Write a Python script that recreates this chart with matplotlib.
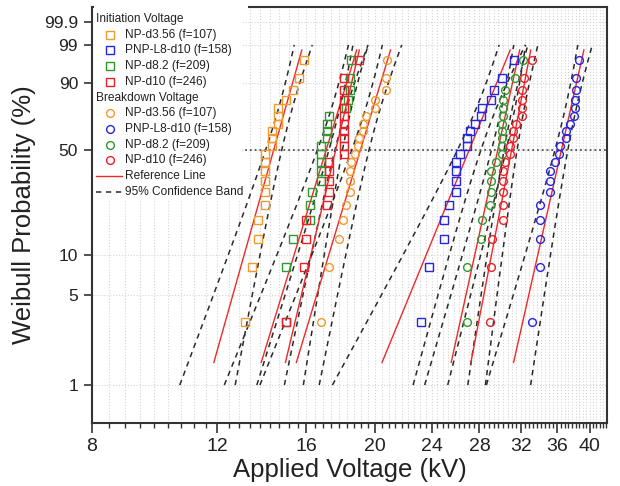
import numpy as np
import matplotlib
matplotlib.use("Agg")
import matplotlib.pyplot as plt
from matplotlib.ticker import FixedLocator, NullFormatter, FixedFormatter
from matplotlib.patches import Rectangle

plt.rcParams['font.family'] = ['Liberation Sans', 'DejaVu Sans']

labels = ["NP-d3.56 (f=107)", "PNP-L8-d10 (f=158)", "NP-d8.2 (f=209)", "NP-d10 (f=246)"]
colors = ["#f39a2e", "#2626e0", "#2e9a2e", "#e8202a"]

# initiation voltage (kV), squares
init_np356 = [13.1, 13.4, 13.7, 13.7, 14.0, 14.0, 14.0, 14.0, 14.0, 14.0,
              14.3, 14.3, 14.3, 14.6, 14.6, 14.6, 15.0, 15.3, 15.6, 15.9]
init_pnp = [23.2, 23.8, 25.0, 25.0, 25.4, 26.0, 26.0, 26.0, 26.0, 26.3,
            26.9, 26.9, 27.2, 27.6, 28.1, 28.2, 29.1, 29.4, 30.1, 31.3]
init_np82 = [15.0, 15.0, 15.3, 16.2, 16.2, 16.3, 16.8, 16.8, 16.8, 16.8,
             16.8, 17.1, 17.1, 17.1, 17.2, 18.2, 18.3, 18.4, 18.4, 18.5]
init_np10 = [15.0, 15.9, 16.0, 16.0, 17.1, 17.2, 17.2, 17.2, 17.2, 18.1,
             18.1, 18.1, 18.1, 18.1, 18.1, 18.1, 18.1, 18.1, 18.1, 19.0]

# breakdown voltage (kV), circles
bd_np356 = [16.8, 17.2, 17.8, 18.0, 18.2, 18.4, 18.4, 18.45, 18.5, 18.7,
            18.9, 19.0, 19.2, 19.2, 19.4, 20.0, 20.0, 20.7, 20.7, 20.8]
bd_pnp = [33.2, 34.1, 34.1, 34.1, 34.1, 35.2, 35.2, 35.2, 35.7, 36.2,
          36.3, 37.0, 37.1, 37.5, 38.0, 38.2, 38.2, 38.3, 38.3, 38.7]
bd_np82 = [26.9, 26.9, 28.1, 28.2, 29.0, 29.1, 29.1, 29.1, 29.5, 30.1,
           30.1, 30.1, 30.1, 30.1, 30.2, 30.2, 30.2, 30.4, 31.4, 32.2]
bd_np10 = [29.0, 29.1, 29.2, 30.2, 30.2, 30.2, 30.2, 30.2, 30.4, 30.9,
           30.9, 31.2, 31.2, 31.5, 32.1, 32.1, 32.1, 32.1, 32.3, 33.2]

init_sets = [init_np356, init_pnp, init_np82, init_np10]
bd_sets = [bd_np356, bd_pnp, bd_np82, bd_np10]

x_major = [8, 12, 16, 20, 24, 28, 32, 36, 40]
y_ticks = [1, 5, 10, 50, 90, 99, 99.9]
y_ticklabels = ["1", "5", "10", "50", "90", "99", "99.9"]


def fwd(p):
    p = np.clip(np.asarray(p, dtype=float), 1e-9, 100 - 1e-9)
    return np.log(-np.log(1 - p / 100))


def inv(w):
    return 100 * (1 - np.exp(-np.exp(w)))


def weibull_mle(v):
    v = np.asarray(v, dtype=float)
    x = v / v.max()
    lx = np.log(x)

    def g(b):
        xb = x ** b
        return np.sum(xb * lx) / np.sum(xb) - 1 / b - lx.mean()

    lo, hi = 0.2, 1000.0
    for _ in range(200):
        mid = 0.5 * (lo + hi)
        if g(mid) < 0:
            lo = mid
        else:
            hi = mid
    b = 0.5 * (lo + hi)
    eta = np.mean(x ** b) ** (1 / b) * v.max()
    return b, eta


def draw_set(ax, v, color, marker):
    v = np.sort(np.asarray(v, dtype=float))
    n = len(v)
    p = (np.arange(1, n + 1) - 0.375) / (n + 0.25) * 100
    b, eta = weibull_mle(v)
    mu, sig = np.log(eta), 1 / b
    # reference line
    w = np.linspace(fwd(1.5), fwd(98.5), 50)
    ax.plot(np.exp(mu + sig * w), inv(w), color="#f02828", lw=1.0, zorder=2)
    # 95% confidence band (Fisher matrix)
    w = np.linspace(fwd(1.0), fwd(99.0), 200)
    se = sig / np.sqrt(n) * np.sqrt(1.1087 - 0.5140 * w + 0.6079 * w ** 2)
    for s in (-1, 1):
        ax.plot(np.exp(mu + sig * w + s * 1.96 * se), inv(w), color="#2a2a2a",
                lw=1.1, dashes=(3.5, 3), zorder=2)
    ax.plot(v, p, ls="none", marker=marker, ms=5.6, mfc="none", mec=color,
            mew=1.0, zorder=3)


fig = plt.figure(figsize=(6.2, 4.86), dpi=100)
ax = fig.add_axes([0.1484, 0.1296, 0.8306, 0.856])
ax.set_xscale("log")
ax.set_yscale("function", functions=(fwd, inv))
ax.set_axisbelow(True)

for v, c in zip(init_sets, colors):
    draw_set(ax, v, c, "s")
for v, c in zip(bd_sets, colors):
    draw_set(ax, v, c, "o")

ax.set_xlim(8, 42.3)
ax.set_ylim(0.506, 99.989)

ax.xaxis.set_major_locator(FixedLocator(x_major))
ax.xaxis.set_major_formatter(FixedFormatter([str(t) for t in x_major]))
minor = [m + k * 4 / 9 for m in x_major for k in range(1, 9)]
ax.xaxis.set_minor_locator(FixedLocator(minor))
ax.xaxis.set_minor_formatter(NullFormatter())
ax.yaxis.set_major_locator(FixedLocator(y_ticks))
ax.yaxis.set_major_formatter(FixedFormatter(y_ticklabels))
ax.yaxis.set_minor_locator(FixedLocator([]))

ax.grid(which="both", axis="x", color="#d4d4d4", ls=":", lw=0.8)
ax.grid(which="major", axis="y", color="#d4d4d4", ls=":", lw=0.8)
ax.axhline(50, color="#555555", ls=":", lw=1.3, zorder=1.2)

for s in ax.spines.values():
    s.set_color("#333333")
    s.set_linewidth(1.5)
ax.tick_params(axis="x", which="major", direction="out", length=7, width=1.2,
               labelsize=14, pad=4, colors="#333333", labelcolor="#222222")
ax.tick_params(axis="x", which="minor", direction="out", length=3.5, width=1.0,
               colors="#333333")
ax.tick_params(axis="y", which="major", direction="out", length=6, width=1.2,
               labelsize=12.5, pad=4, colors="#333333", labelcolor="#222222")

ax.set_xlabel("Applied Voltage (kV)", fontsize=18.5, color="#222222", labelpad=2)
ax.set_ylabel("Weibull Probability (%)", fontsize=18.5, color="#222222", labelpad=6)

# legend block
ax.add_patch(Rectangle((0.0, 0.535), 0.292, 0.465, transform=ax.transAxes,
                       facecolor="white", edgecolor="none", zorder=1.5))
ax.add_patch(Rectangle((0.004, 0.994), 0.298, 0.02, transform=ax.transAxes,
                       facecolor="white", edgecolor="none", zorder=3,
                       clip_on=False))
step = 15.7 / 416
y0 = (423 - 19) / 416
mx, tx, hx = 0.035, 0.064, 0.0087
fs = 8.6
ax.text(hx, y0, "Initiation Voltage", transform=ax.transAxes, fontsize=fs,
        va="center", ha="left", color="#222222", zorder=4)
for i, (lab, c) in enumerate(zip(labels, colors)):
    y = y0 - step * (i + 1)
    ax.plot([mx], [y], transform=ax.transAxes, ls="none", marker="s", ms=5.6,
            mfc="none", mec=c, mew=1.0, clip_on=False, zorder=4)
    ax.text(tx, y, lab, transform=ax.transAxes, fontsize=fs, va="center",
            ha="left", color="#222222", zorder=4)
ax.text(hx, y0 - step * 5, "Breakdown Voltage", transform=ax.transAxes,
        fontsize=fs, va="center", ha="left", color="#222222", zorder=4)
for i, (lab, c) in enumerate(zip(labels, colors)):
    y = y0 - step * (i + 6)
    ax.plot([mx], [y], transform=ax.transAxes, ls="none", marker="o", ms=5.6,
            mfc="none", mec=c, mew=1.0, clip_on=False, zorder=4)
    ax.text(tx, y, lab, transform=ax.transAxes, fontsize=fs, va="center",
            ha="left", color="#222222", zorder=4)
y = y0 - step * 10
ax.plot([0.008, 0.058], [y, y], transform=ax.transAxes, color="#f02828", lw=1.0,
        zorder=4)
ax.text(tx, y, "Reference Line", transform=ax.transAxes, fontsize=fs,
        va="center", ha="left", color="#222222", zorder=4)
y = y0 - step * 11
ax.plot([0.008, 0.058], [y, y], transform=ax.transAxes, color="#2a2a2a", lw=1.1,
        dashes=(3.5, 3), zorder=4)
ax.text(tx, y, "95% Confidence Band", transform=ax.transAxes, fontsize=fs,
        va="center", ha="left", color="#222222", zorder=4)

fig.savefig("out.png", dpi=100)
